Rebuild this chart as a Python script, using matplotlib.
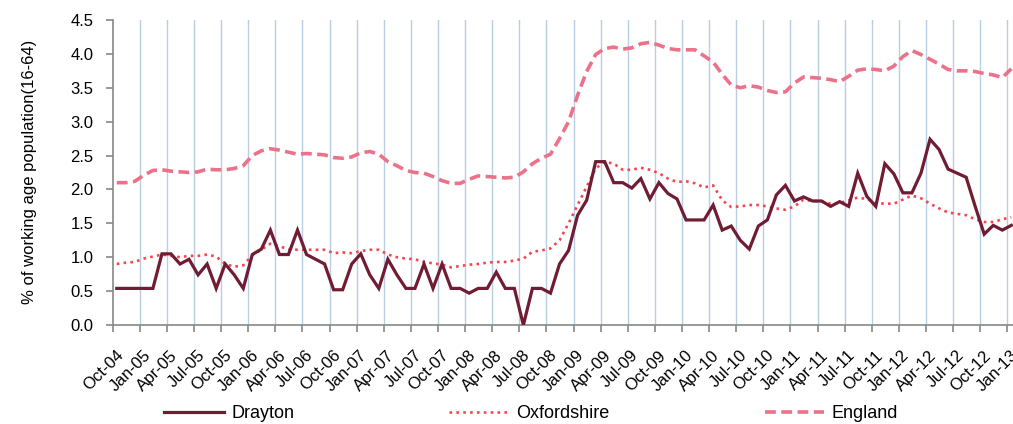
import numpy as np
import matplotlib
matplotlib.use("Agg")
import matplotlib.pyplot as plt
import matplotlib.transforms as mtransforms

plt.rcParams['font.family'] = ['Liberation Sans', 'DejaVu Sans']

# Monthly claimant rates, Oct-04 onwards (% of working age population 16-64)
drayton = [0.54, 0.54, 0.54, 0.54, 0.54, 1.05, 1.05, 0.90, 0.97, 0.74,
           0.90, 0.54, 0.90, 0.74, 0.54, 1.04, 1.12, 1.40, 1.04, 1.04,
           1.40, 1.04, 0.97, 0.90, 0.52, 0.52, 0.90, 1.05, 0.74, 0.54,
           0.97, 0.74, 0.54, 0.54, 0.90, 0.54, 0.90, 0.54, 0.54, 0.47,
           0.54, 0.54, 0.78, 0.54, 0.54, 0.00, 0.54, 0.54, 0.47, 0.90,
           1.10, 1.62, 1.84, 2.41, 2.41, 2.10, 2.10, 2.02, 2.16, 1.86,
           2.10, 1.94, 1.86, 1.55, 1.55, 1.55, 1.77, 1.40, 1.46, 1.25,
           1.12, 1.46, 1.55, 1.92, 2.06, 1.83, 1.89, 1.83, 1.83, 1.75,
           1.82, 1.75, 2.24, 1.90, 1.75, 2.38, 2.23, 1.95, 1.95, 2.24,
           2.74, 2.59, 2.30, 2.24, 2.18, 1.75, 1.34, 1.47, 1.40, 1.47]

oxfordshire = [0.90, 0.92, 0.93, 0.98, 1.01, 1.04, 1.02, 1.00, 1.02, 1.02,
               1.04, 1.01, 0.90, 0.86, 0.88, 1.03, 1.11, 1.20, 1.16, 1.12,
               1.11, 1.11, 1.11, 1.11, 1.06, 1.07, 1.06, 1.09, 1.11, 1.11,
               1.04, 1.00, 0.98, 0.97, 0.93, 0.91, 0.89, 0.85, 0.87, 0.89,
               0.90, 0.92, 0.93, 0.93, 0.95, 0.98, 1.08, 1.10, 1.13, 1.25,
               1.50, 1.77, 2.04, 2.31, 2.41, 2.38, 2.29, 2.29, 2.32, 2.29,
               2.24, 2.16, 2.11, 2.12, 2.09, 2.03, 2.06, 1.84, 1.74, 1.75,
               1.77, 1.77, 1.75, 1.72, 1.70, 1.75, 1.85, 1.83, 1.82, 1.79,
               1.80, 1.84, 1.88, 1.86, 1.80, 1.79, 1.79, 1.85, 1.91, 1.87,
               1.79, 1.72, 1.66, 1.64, 1.62, 1.56, 1.52, 1.52, 1.56, 1.59]

england = [2.10, 2.10, 2.12, 2.21, 2.28, 2.29, 2.27, 2.26, 2.25, 2.26,
           2.30, 2.29, 2.29, 2.31, 2.35, 2.50, 2.57, 2.60, 2.58, 2.55,
           2.52, 2.53, 2.52, 2.51, 2.47, 2.46, 2.48, 2.54, 2.56, 2.52,
           2.41, 2.35, 2.28, 2.25, 2.24, 2.19, 2.13, 2.09, 2.09, 2.15,
           2.20, 2.19, 2.18, 2.17, 2.18, 2.26, 2.38, 2.46, 2.52, 2.75,
           3.00, 3.39, 3.74, 3.99, 4.08, 4.10, 4.07, 4.09, 4.15, 4.17,
           4.13, 4.08, 4.06, 4.06, 4.06, 3.97, 3.88, 3.70, 3.54, 3.50,
           3.53, 3.51, 3.46, 3.43, 3.44, 3.57, 3.66, 3.65, 3.64, 3.62,
           3.59, 3.67, 3.76, 3.78, 3.77, 3.75, 3.82, 3.96, 4.05, 3.99,
           3.92, 3.85, 3.77, 3.75, 3.75, 3.74, 3.71, 3.69, 3.65, 3.78]

tick_labels = ['Oct-04', 'Jan-05', 'Apr-05', 'Jul-05', 'Oct-05', 'Jan-06',
               'Apr-06', 'Jul-06', 'Oct-06', 'Jan-07', 'Apr-07', 'Jul-07',
               'Oct-07', 'Jan-08', 'Apr-08', 'Jul-08', 'Oct-08', 'Jan-09',
               'Apr-09', 'Jul-09', 'Oct-09', 'Jan-10', 'Apr-10', 'Jul-10',
               'Oct-10', 'Jan-11', 'Apr-11', 'Jul-11', 'Oct-11', 'Jan-12',
               'Apr-12', 'Jul-12', 'Oct-12', 'Jan-13']
series_names = ['Drayton', 'Oxfordshire', 'England']

# styling
c_dray = '#701C33'
c_oxon = '#F5454F'
c_eng = '#EC7289'
grid_blue = '#B9CDE5'
axis_grey = '#888888'
month_offset = 0.45  # each monthly value sits just after its month's tick

fig = plt.figure(figsize=(10.13, 4.24), dpi=100)
ax = fig.add_axes([112.7 / 1013, 1 - 325 / 424, 1 - 112.7 / 1013, (325 - 20) / 424])

x = np.arange(len(drayton)) + month_offset
tick_pos = np.arange(len(tick_labels)) * 3

for t in tick_pos[1:]:
    ax.axvline(t, color=grid_blue, lw=1.0, zorder=0)

ax.plot(x, england, color=c_eng, lw=2.6, linestyle=(0, (3.0, 1.5)),
        label=series_names[2], zorder=3)
ax.plot(x, oxfordshire, color=c_oxon, lw=1.9, linestyle=(0, (1.0, 1.6)),
        label=series_names[1], zorder=4)
ax.plot(x, drayton, color=c_dray, lw=2.3, solid_joinstyle='miter',
        label=series_names[0], zorder=5)

ax.set_xlim(0, (1013 - 112.7) / 9.036)
ax.set_ylim(0, 4.5)
ax.set_yticks(np.arange(0, 4.51, 0.5))
ax.set_yticklabels([f'{v:.1f}' for v in np.arange(0, 4.51, 0.5)])
ax.set_xticks(tick_pos)
ax.set_xticklabels(tick_labels, rotation=45, ha='right', rotation_mode='anchor')

for side in ('top', 'right'):
    ax.spines[side].set_visible(False)
for side in ('left', 'bottom'):
    ax.spines[side].set_color(axis_grey)
    ax.spines[side].set_linewidth(1.2)
ax.tick_params(axis='both', colors=axis_grey, labelcolor='black', labelsize=12,
               length=5, width=1.2, direction='out')
ax.tick_params(axis='y', pad=9)
ax.tick_params(axis='x', pad=2)

# nudge the slanted date labels right and down, after tick params are final
offset = mtransforms.ScaledTranslation(3 / 100, -13 / 100, fig.dpi_scale_trans)
for lab in ax.get_xticklabels():
    lab.set_transform(lab.get_transform() + offset)

fig.text(30 / 1013, 1 - 172 / 424, '% of working age population(16-64)',
         rotation=90, ha='center', va='center', fontsize=12)

handles, labels = ax.get_legend_handles_labels()
order = [2, 1, 0]
leg = fig.legend([handles[i] for i in order], [labels[i] for i in order],
                 loc='center', bbox_to_anchor=(531 / 1013, 1 - 414 / 424),
                 ncol=3, frameon=False, fontsize=13, handlelength=3.3,
                 handletextpad=0.4, columnspacing=8.6, borderpad=0)

fig.savefig('out.png', dpi=100)
